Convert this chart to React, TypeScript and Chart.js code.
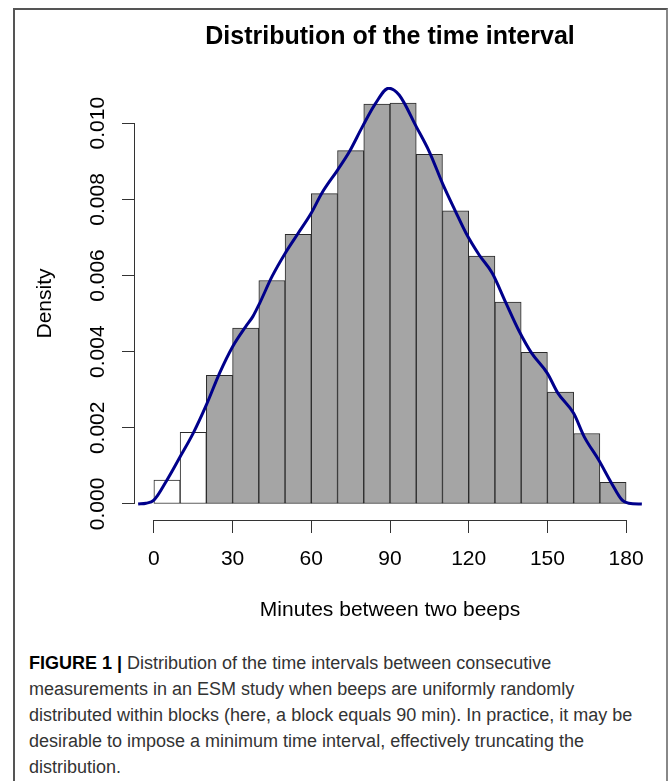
import React, { useEffect, useRef } from "react";
import { Chart, registerables } from "chart.js";

Chart.register(...registerables);

// ---- data ----
const binStarts = [0, 10, 20, 30, 40, 50, 60, 70, 80, 90, 100, 110, 120, 130, 140, 150, 160, 170];
const binWidth = 10;
const binDensity = [
  0.00063, 0.00188, 0.00338, 0.00462, 0.00587, 0.00708, 0.00815, 0.00928, 0.0105,
  0.01053, 0.00918, 0.0077, 0.00651, 0.0053, 0.00398, 0.00294, 0.00185, 0.00057,
];
const truncatedBelow = 20; // bins starting below this are drawn unfilled

const densityX = [
  -6, -3, 0, 5, 10, 15, 20, 25, 30, 35, 37.7, 40.3, 45, 50, 55, 60, 64, 70, 74.5, 79.5,
  84.5, 89.5, 93.5, 100, 105, 110, 115, 119, 124, 129, 134, 139, 144, 150, 154, 160, 164,
  169.5, 174.5, 178.5, 181, 186,
];
const densityY = [
  0, 0.00002, 0.0001, 0.00063, 0.00124, 0.00186, 0.0026, 0.00343, 0.00413, 0.00466,
  0.00492, 0.00527, 0.00597, 0.00658, 0.00711, 0.00764, 0.00816, 0.00877, 0.00925,
  0.00991, 0.01052, 0.01092, 0.01074, 0.00991, 0.00925, 0.00842, 0.00768, 0.00711,
  0.00654, 0.00606, 0.00531, 0.00457, 0.00396, 0.00343, 0.00291, 0.00238, 0.00177,
  0.00116, 0.00054, 0.0001, 0.00002, 0,
];

const xTickStep = 30;
const yTickStep = 0.002;

const chartTitle = "Distribution of the time interval";
const xTitle = "Minutes between two beeps";
const yTitle = "Density";

const captionBold = "FIGURE 1 | ";
const captionLines = [
  "Distribution of the time intervals between consecutive",
  "measurements in an ESM study when beeps are uniformly randomly",
  "distributed within blocks (here, a block equals 90 min). In practice, it may be",
  "desirable to impose a minimum time interval, effectively truncating the",
  "distribution.",
];

const FONT = "'Liberation Sans', Arial, Helvetica, sans-serif";

const rAxisLines = {
  id: "rAxisLines",
  afterDraw(chart: any) {
    const { ctx, chartArea, scales } = chart;
    const xs = scales.x;
    const ys = scales.y;
    ctx.save();
    ctx.strokeStyle = "#333";
    ctx.lineWidth = 1;
    ctx.beginPath();
    const xt = xs.ticks;
    const yb = Math.round(chartArea.bottom) + 0.5;
    ctx.moveTo(xs.getPixelForValue(xt[0].value), yb);
    ctx.lineTo(xs.getPixelForValue(xt[xt.length - 1].value), yb);
    const yt = ys.ticks;
    const xl = Math.round(chartArea.left) - 0.5;
    ctx.moveTo(xl, ys.getPixelForValue(yt[0].value));
    ctx.lineTo(xl, ys.getPixelForValue(yt[yt.length - 1].value));
    ctx.stroke();
    ctx.restore();
  },
};

export default function App() {
  const canvasRef = useRef<HTMLCanvasElement | null>(null);

  useEffect(() => {
    const canvas = canvasRef.current;
    if (!canvas) return;

    const xLo = binStarts[0];
    const xHi = binStarts[binStarts.length - 1] + binWidth;
    const xPad = (xHi - xLo) * 0.04;
    const yTop = Math.max(...binDensity);
    const yPad = yTop * 0.04;

    const chart = new Chart(canvas, {
      type: "bar",
      data: {
        datasets: [
          {
            type: "line",
            label: "density",
            data: densityX.map((x, i) => ({ x, y: densityY[i] })),
            borderColor: "#00008B",
            borderWidth: 3,
            pointRadius: 0,
            tension: 0.4,
            cubicInterpolationMode: "monotone",
            fill: false,
            order: 0,
          } as any,
          {
            type: "bar",
            label: "histogram",
            data: binStarts.map((s, i) => ({ x: s + binWidth / 2, y: binDensity[i] })),
            backgroundColor: (ctx: any) =>
              binStarts[ctx.dataIndex] < truncatedBelow ? "#ffffff" : "#a5a5a5",
            borderColor: "#2a2a2a",
            borderWidth: 1,
            borderSkipped: false,
            barPercentage: 1,
            categoryPercentage: 1,
            grouped: false,
            order: 1,
          } as any,
        ],
      },
      options: {
        responsive: false,
        animation: false,
        events: [],
        layout: { padding: { left: 0, right: 21, top: 0, bottom: 0 } },
        plugins: {
          legend: { display: false },
          tooltip: { enabled: false },
          title: {
            display: true,
            text: chartTitle,
            fullSize: false,
            color: "#000",
            font: { family: FONT, size: 25, weight: "bold", lineHeight: 1.2 },
            padding: { top: 12, bottom: 35 },
          },
        },
        scales: {
          x: {
            type: "linear",
            min: xLo - xPad,
            max: xHi + xPad,
            offset: false,
            border: { display: false },
            grid: {
              display: true,
              offset: false,
              drawOnChartArea: false,
              drawTicks: true,
              tickLength: 13,
              color: "#333",
              lineWidth: 1,
            },
            ticks: {
              stepSize: xTickStep,
              includeBounds: false,
              autoSkip: false,
              maxRotation: 0,
              minRotation: 0,
              padding: 14,
              color: "#000",
              font: { family: FONT, size: 21 },
              callback: (v: any) => String(v),
            },
            title: {
              display: true,
              text: xTitle,
              color: "#000",
              font: { family: FONT, size: 21 },
              padding: { top: 0, bottom: 7.5 },
            },
            afterFit: (scale: any) => {
              scale.height = 110;
            },
          },
          y: {
            type: "linear",
            min: -yPad,
            max: yTop + yPad,
            border: { display: false },
            grid: {
              display: true,
              offset: false,
              drawOnChartArea: false,
              drawTicks: true,
              tickLength: 13,
              color: "#333",
              lineWidth: 1,
            },
            ticks: {
              stepSize: yTickStep,
              includeBounds: false,
              autoSkip: false,
              minRotation: 90,
              maxRotation: 90,
              crossAlign: "center",
              padding: -2,
              color: "#000",
              font: { family: FONT, size: 21 },
              callback: (v: any) => Number(v).toFixed(3),
            },
            title: {
              display: true,
              text: yTitle,
              color: "#000",
              font: { family: FONT, size: 21 },
              padding: { top: 17, bottom: 0 },
            },
            afterFit: (scale: any) => {
              scale.width = 119;
            },
          },
        },
      },
      plugins: [rAxisLines],
    });

    return () => chart.destroy();
  }, []);

  return (
    <div
      style={{
        position: "absolute",
        left: 0,
        top: 0,
        width: 669,
        height: 781,
        overflow: "hidden",
        background: "#fff",
        fontFamily: FONT,
      }}
    >
      <div
        style={{
          position: "absolute",
          left: 13,
          top: 8,
          width: 651,
          height: 800,
          borderLeft: "2px solid #555",
          borderTop: "2px solid #555",
          borderRight: "2px solid #888",
        }}
      />
      <canvas
        ref={canvasRef}
        width={650}
        height={620}
        style={{ position: "absolute", left: 16, top: 10, width: 650, height: 620 }}
      />
      <div
        style={{
          position: "absolute",
          left: 29,
          top: 650,
          fontSize: 18,
          lineHeight: "26px",
          color: "#333",
          whiteSpace: "pre",
        }}
      >
        {captionLines.map((line, i) => (
          <div key={i}>
            {i === 0 ? <b style={{ color: "#000" }}>{captionBold}</b> : null}
            {line}
          </div>
        ))}
      </div>
    </div>
  );
}
